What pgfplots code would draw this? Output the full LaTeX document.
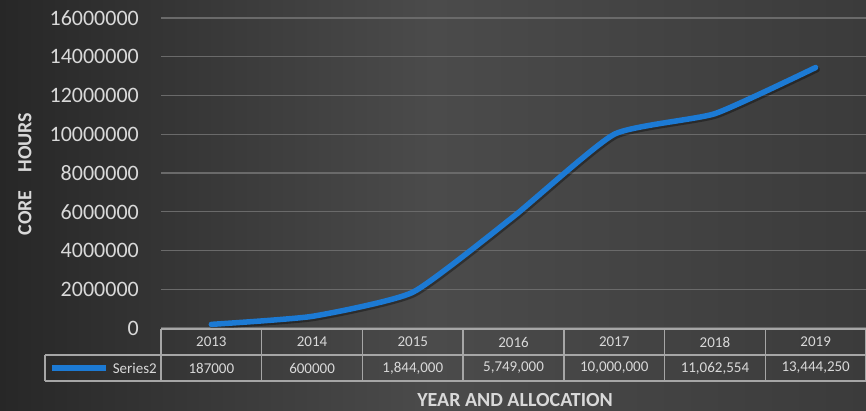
\documentclass[border=0pt]{standalone}
\usepackage{fontspec}
\setmainfont{Carlito}
\usepackage{pgfplots}
\usepackage{pgfplotstable}
\pgfplotsset{compat=1.18}
\definecolor{bgL}{HTML}{272727}
\definecolor{bgM}{HTML}{4B4B4B}
\definecolor{bgR}{HTML}{3B3B3B}
\definecolor{gridc}{HTML}{6A6A6A}
\definecolor{txt}{HTML}{D9D9D9}
\definecolor{tcol}{HTML}{A6A6A6}
\definecolor{lineblue}{RGB}{28,122,212}
\pgfplotstableread{
x y
1 187000
2 600000
3 1844000
4 5749000
5 10000000
6 11062554
7 13444250
}\coredata
\begin{document}
\begin{tikzpicture}[x=1pt,y=1pt]
\shade[left color=bgL, right color=bgR, middle color=bgM] (0,0) rectangle (866,410);
\useasboundingbox (0,0) rectangle (866,410);
\begin{axis}[at={(161pt,82pt)}, anchor=south west, scale only axis,
  width=705pt, height=310pt, xmin=0.5, xmax=7.5, ymin=0, ymax=16000000,
  axis line style={draw=none}, clip=false,
  ymajorgrids, grid style={gridc, line width=1.2pt},
  ytick={0,2000000,4000000,6000000,8000000,10000000,12000000,14000000,16000000},
  xtick=\empty, major tick length=0pt, scaled y ticks=false,
  yticklabel style={text=txt, font=\fontsize{22}{26}\selectfont, inner sep=0pt, xshift=-22pt,
    /pgf/number format/fixed, /pgf/number format/1000 sep={}, /pgf/number format/assume math mode=true},
]
\addplot[smooth, tension=0.3, black, opacity=0.35, line width=5.5pt, line cap=round, xshift=1.5pt, yshift=-2pt] table[x=x,y=y]{\coredata};
\addplot[smooth, tension=0.3, lineblue, line width=5.5pt, line cap=round] table[x=x,y=y]{\coredata};
\end{axis}
% data table
\begin{scope}[tcol, line width=1.5pt]
\draw (161,81) -- (866,81);
\draw (45,55) -- (866,55);
\draw (45,29) -- (866,29);
\draw (45,55) -- (45,29);
\foreach \i in {0,...,7} {\draw ({161+\i*100.714},81) -- ({161+\i*100.714},29);}
\end{scope}
\draw[lineblue, line width=6pt] (52,42) -- (106,42);
\node[anchor=east, text=txt, font=\fontsize{15}{18}\selectfont, inner sep=0pt] at (157,42) {Series2};
\foreach \yr/\val [count=\i] in {2013/187000, 2014/600000, 2015/{1,844,000}, 2016/{5,749,000}, 2017/{10,000,000}, 2018/{11,062,554}, 2019/{13,444,250}} {
  \node[text=txt, font=\fontsize{15}{18}\selectfont] at ({161+(\i-0.5)*100.714},68) {\yr};
  \node[text=txt, font=\fontsize{15}{18}\selectfont] at ({161+(\i-0.5)*100.714},42) {\val};
}
\node[text=txt, font=\bfseries\fontsize{20}{24}\selectfont] at (515,10) {YEAR AND ALLOCATION};
\node[text=txt, font=\bfseries\fontsize{20}{24}\selectfont, rotate=90] at (25,236) {CORE\hspace{0.9em}HOURS};
\end{tikzpicture}
\end{document}
